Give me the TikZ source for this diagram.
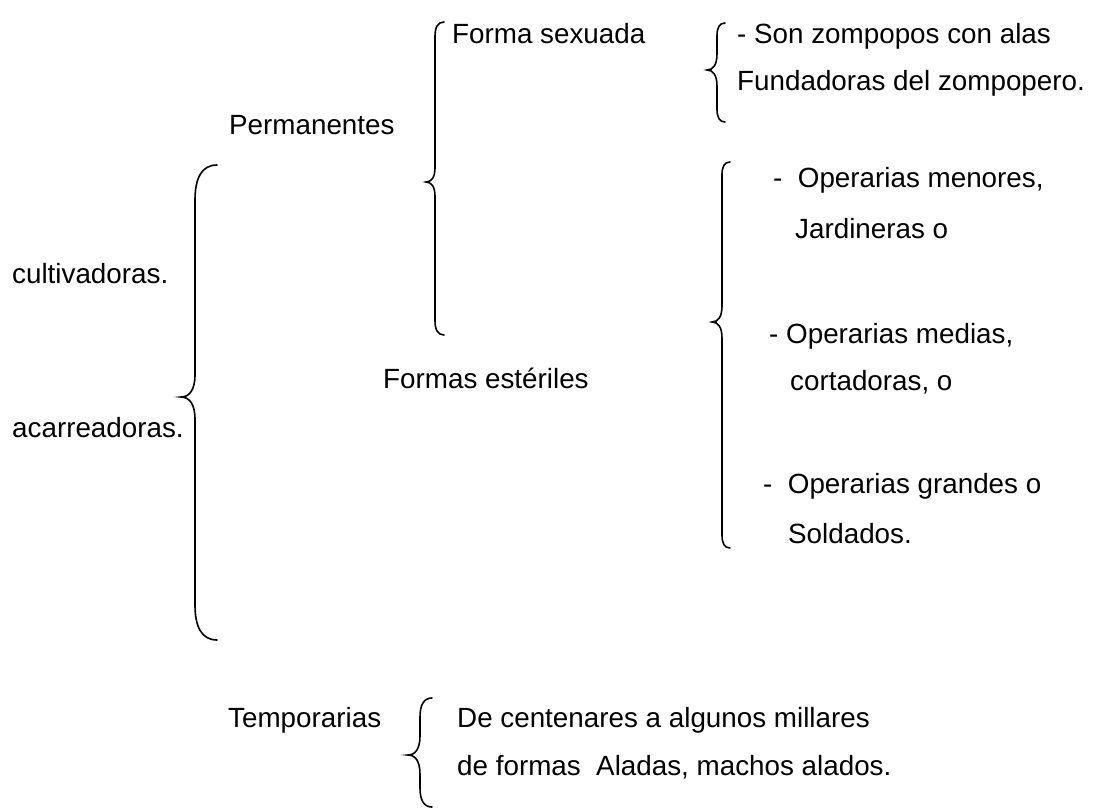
\documentclass[tikz,border=0pt]{standalone}
\usepackage{fontspec}
\setmainfont{Liberation Sans}

% curly brace: x of stem, top, tip, bottom, hook width, tip depth
\newcommand{\llave}[6]{%
  \draw[llave] ({#1+#5},#2) .. controls ({#1+0.3*#5},#2) and ({#1},{#2+0.6*#5}) .. ({#1},{#2+1.6*#5})
    -- ({#1},{#3-1.6*#6}) .. controls ({#1},{#3-0.5*#6}) and ({#1-0.4*#6},#3) .. ({#1-#6},#3)
    .. controls ({#1-0.4*#6},#3) and ({#1},{#3+0.5*#6}) .. ({#1},{#3+1.6*#6})
    -- ({#1},{#4-1.6*#5}) .. controls ({#1},{#4-0.6*#5}) and ({#1+0.3*#5},#4) .. ({#1+#5},#4);}

\begin{document}
\begin{tikzpicture}[
  x=1pt, y=-1pt,
  every node/.style = {inner sep=0pt, anchor=base west,
    font=\fontsize{27.8}{33}\selectfont},
  llave/.style = {line width=1.6pt, line cap=round}
  ]
  \useasboundingbox (0,0) rectangle (1101,809);

  % left column
  \node (cult) at (12,283) {cultivadoras.};
  \node (acar) at (12,437) {acarreadoras.};
  \llave{195}{165}{397}{640}{22}{14}

  % Permanentes
  \node (perm) at (229,134) {Permanentes};
  \llave{435}{22}{182}{335}{9}{9}
  \node (fsex) at (452,43) {Forma sexuada};
  \llave{717}{23}{70}{122}{8}{10}
  \node (son)  at (737,43) {- Son zompopos con alas};
  \node (fund) at (737,90) {Fundadoras del zompopero.};

  % Formas esteriles
  \node (fest) at (383,388) {Formas estériles};
  \llave{722}{162}{322}{548}{8}{10}
  \node (men)  at (773,187) {-\ \ Operarias menores,};
  \node (jard) at (795,238) {Jardineras o};
  \node (med)  at (769,343) {- Operarias medias,};
  \node (cort) at (790,390) {cortadoras, o};
  \node (gran) at (763,493) {-\ \ Operarias grandes o};
  \node (sold) at (788,543) {Soldados.};

  % Temporarias
  \node (temp) at (228,727) {Temporarias};
  \llave{420}{698}{755}{807}{12}{12}
  \node (cent) at (457,727) {De centenares a algunos millares};
  \node (alad) at (457,775) {de formas\ \ Aladas, machos alados.};
\end{tikzpicture}
\end{document}
